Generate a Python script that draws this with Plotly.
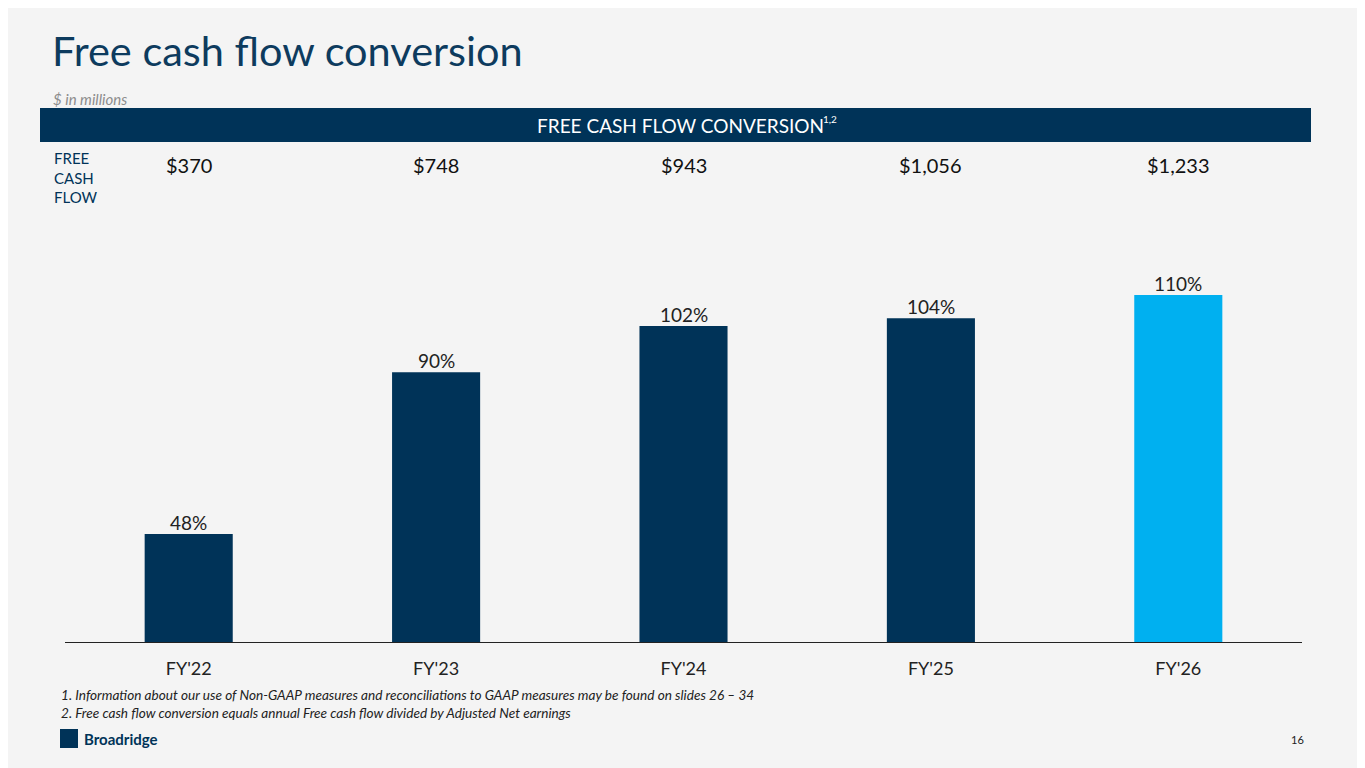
import plotly.graph_objects as go

# Chart data
years = ["FY'22", "FY'23", "FY'24", "FY'25", "FY'26"]
conversion_pct = [48, 90, 102, 104, 110]
free_cash_flow = ["$370", "$748", "$943", "$1,056", "$1,233"]
bar_colors = ["#003358", "#003358", "#003358", "#003358", "#00b0f0"]

W, H = 1365, 768
OFF = 8  # page margin the browser adds around the figure
# plot area edges as they should appear on screen
SL, SR, ST, SB = 65, 1302, 240, 642
L, R, T, B = SL - OFF, W - (SR - OFF), ST - OFF, H - (SB - OFF)
FONT = "Lato"
NAVY = "#003358"


def px(x):
    # screen pixel x -> paper x
    return (x - SL) / (SR - SL)


def py(y):
    # screen pixel y -> paper y
    return (SB - y) / (SB - ST)


fig = go.Figure(go.Bar(
    x=years,
    y=conversion_pct,
    marker=dict(color=bar_colors, line=dict(width=0)),
    width=0.356,
    hoverinfo="skip",
))

annotations = [
    dict(text="Free cash flow conversion", x=px(50), y=py(50), xanchor="left", yanchor="middle",
         font=dict(family=FONT, size=41.5, color="#0d3b5e")),
    dict(text="<i>$ in millions</i>", x=px(51), y=py(99), xanchor="left", yanchor="middle",
         font=dict(family=FONT, size=15, color="#8c8c8c")),
    dict(text="FREE CASH FLOW CONVERSION", x=px(680), y=py(125), xanchor="center", yanchor="middle",
         font=dict(family=FONT, size=19, color="white")),
    # footnote markers, raised like a superscript
    dict(text="1,2", x=px(821), y=py(119), xanchor="left", yanchor="middle",
         font=dict(family=FONT, size=10, color="white")),
    dict(text="FREE<br>CASH<br>FLOW", x=px(52), y=py(177), xanchor="left", yanchor="middle",
         align="left", font=dict(family=FONT, size=15, color=NAVY)),
    dict(text="<i>1. Information about our use of Non-GAAP measures and reconciliations to GAAP measures "
              "may be found on slides 26 – 34<br>2. Free cash flow conversion equals annual Free cash "
              "flow divided by Adjusted Net earnings</i>",
         x=px(59), y=py(704), xanchor="left", yanchor="middle", align="left",
         font=dict(family=FONT, size=13.6, color="#222222")),
    dict(text="<b>Broadridge</b>", x=px(82), y=py(739), xanchor="left", yanchor="middle",
         font=dict(family=FONT, size=15, color=NAVY)),
    dict(text="16", x=px(1306), y=py(739), xanchor="right", yanchor="middle",
         font=dict(family=FONT, size=11, color="#222222")),
]

# Free cash flow values row, placed over each category
for yr, val in zip(years, free_cash_flow):
    annotations.append(dict(text=val, x=yr, xref="x", y=py(165), yref="paper",
                            xanchor="center", yanchor="middle", showarrow=False,
                            font=dict(family=FONT, size=20, color="#111111")))

# percentage labels sitting on top of each bar
for yr, v in zip(years, conversion_pct):
    annotations.append(dict(text=f"{v}%", x=yr, xref="x", y=v, yref="y",
                            xanchor="center", yanchor="bottom", yshift=-2, showarrow=False,
                            font=dict(family=FONT, size=19, color="#222222")))

for a in annotations:
    a.setdefault("xref", "paper")
    a.setdefault("yref", "paper")
    a.setdefault("showarrow", False)

shapes = [
    # header band
    dict(type="rect", xref="paper", yref="paper", x0=px(40), x1=px(1311), y0=py(142), y1=py(108),
         fillcolor=NAVY, line=dict(width=0), layer="below"),
    # logo mark
    dict(type="rect", xref="paper", yref="paper", x0=px(60), x1=px(78), y0=py(748), y1=py(729),
         fillcolor=NAVY, line=dict(width=0)),
]

fig.update_layout(
    width=W, height=H,
    margin=dict(l=L, r=R, t=T, b=B),
    paper_bgcolor="#f4f4f4",
    plot_bgcolor="#f4f4f4",
    showlegend=False,
    bargap=0.644,
    xaxis=dict(showgrid=False, showline=True, linecolor="#222222", linewidth=1,
               ticks="", ticklabelstandoff=10,
               tickfont=dict(family=FONT, size=18, color="#222222")),
    yaxis=dict(range=[20, 124.3], visible=False, showgrid=False, zeroline=False),
    annotations=annotations,
    shapes=shapes,
)

fig.write_html("out.html")
